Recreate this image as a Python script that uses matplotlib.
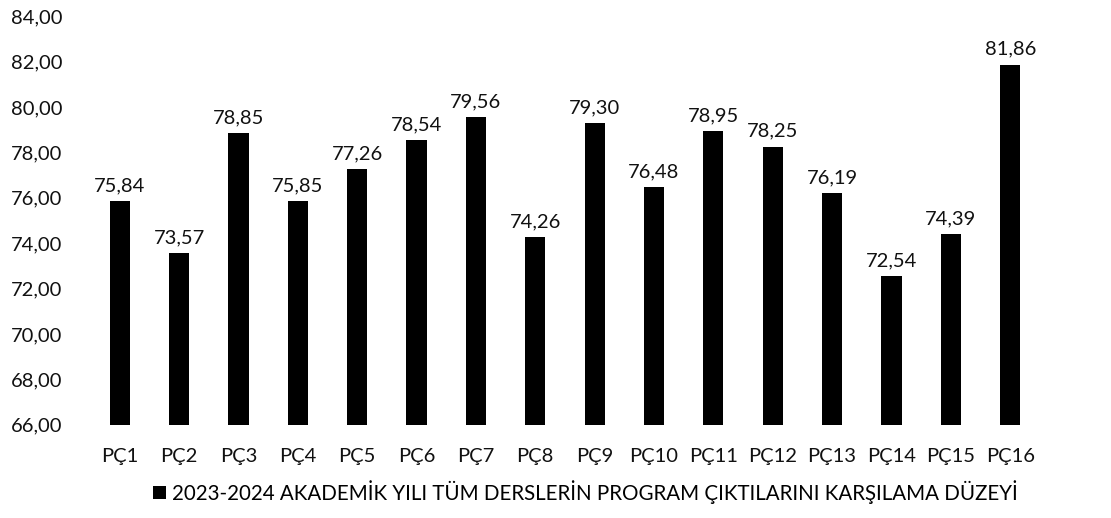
import matplotlib.pyplot as plt

plt.rcParams['font.family'] = ['Lato', 'DejaVu Sans']

categories = ["PÇ1", "PÇ2", "PÇ3", "PÇ4", "PÇ5", "PÇ6", "PÇ7", "PÇ8",
              "PÇ9", "PÇ10", "PÇ11", "PÇ12", "PÇ13", "PÇ14", "PÇ15", "PÇ16"]
values = [75.84, 73.57, 78.85, 75.85, 77.26, 78.54, 79.56, 74.26,
          79.30, 76.48, 78.95, 78.25, 76.19, 72.54, 74.39, 81.86]
y_ticks = [66, 68, 70, 72, 74, 76, 78, 80, 82, 84]
legend_label = "2023-2024 AKADEMİK YILI TÜM DERSLERİN PROGRAM ÇIKTILARINI KARŞILAMA DÜZEYİ"

fig = plt.figure(figsize=(11.11, 5.18), dpi=100)
ax = fig.add_axes([0.081, 0.18, 0.855, 0.789])

x = list(range(len(categories)))
bars = ax.bar(x, [v - 66 for v in values], bottom=66, width=0.34,
              color="black", label=legend_label)

for xi, v in zip(x, values):
    ax.text(xi, v + 0.3, f"{v:.2f}".replace(".", ","), ha="center", va="bottom",
            fontsize=14.5, color="#111111")

ax.set_xlim(-0.5, len(categories) - 0.5)
ax.set_ylim(66, 84)
ax.set_yticks(y_ticks)
ax.set_yticklabels([f"{t:.2f}".replace(".", ",") for t in y_ticks])
ax.set_xticks(x)
ax.set_xticklabels(categories)
ax.tick_params(axis="both", length=0, labelsize=14.5, colors="#111111")
ax.tick_params(axis="y", pad=20)
ax.tick_params(axis="x", pad=17)
for s in ax.spines.values():
    s.set_visible(False)

fig.legend(loc="center", bbox_to_anchor=(0.527, 0.05), frameon=False,
           fontsize=14.8, handlelength=0.6, handleheight=0.6, handletextpad=0.3)

fig.savefig("out.png", dpi=100)
